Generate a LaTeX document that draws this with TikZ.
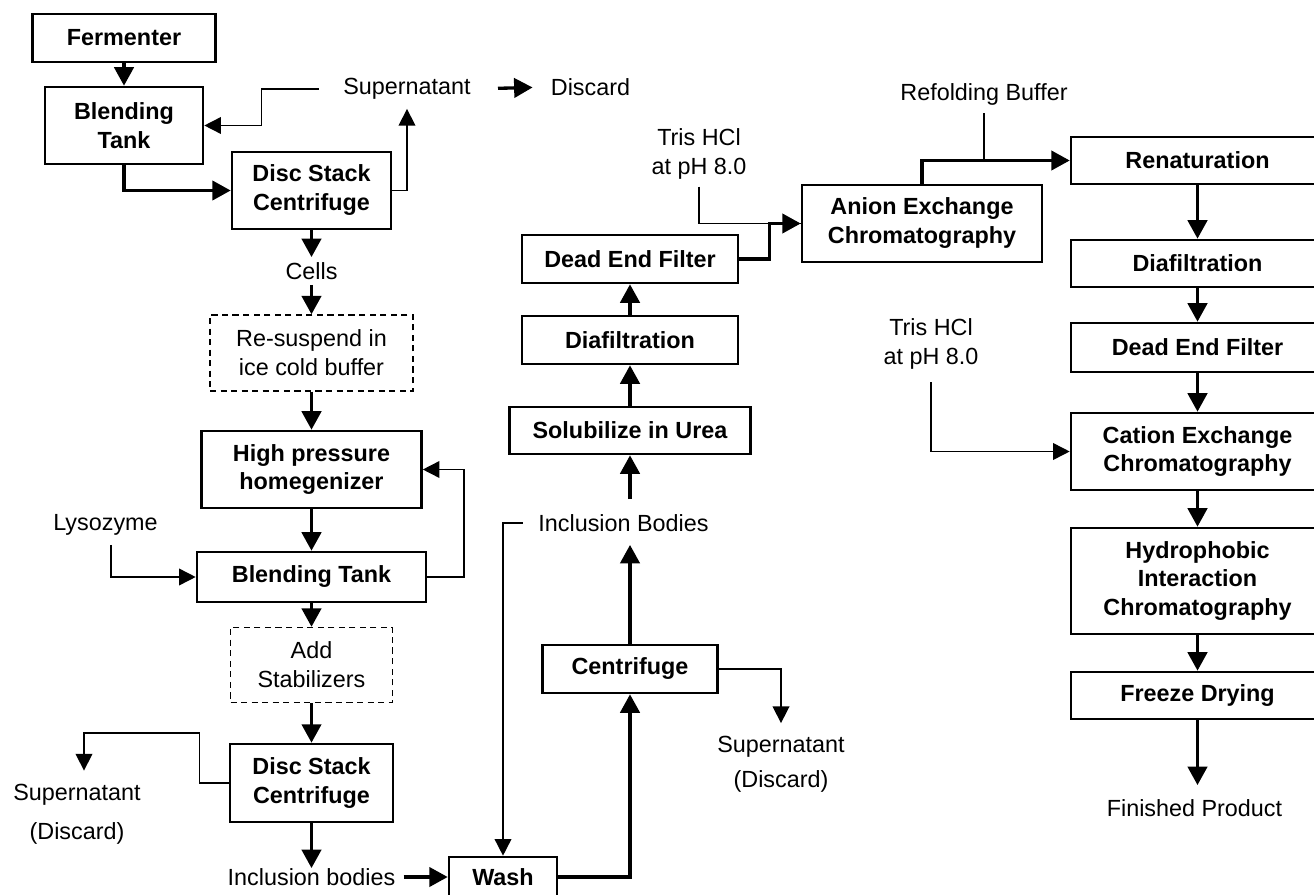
\documentclass[tikz,border=0pt]{standalone}
\usepackage{fontspec}
\setmainfont{Liberation Sans}
\usetikzlibrary{arrows.meta}
\tikzset{
  box/.style={draw,line width=1.5pt,inner sep=0pt,align=center,font=\fontsize{13.3}{16.5}\selectfont\bfseries},
  dbox/.style={box,line width=0.8pt,dash pattern=on 3.5pt off 2.5pt,font=\fontsize{13.3}{16.5}\selectfont},
  lbl/.style={inner sep=0pt,align=center,font=\fontsize{13.3}{16.5}\selectfont},
  flow/.style={line width=1.9pt,-{Triangle[length=10.5pt,width=11pt]}},
  feed/.style={line width=0.9pt,-{Triangle[length=9.5pt,width=9.5pt]}},
}

\begin{document}
\begin{tikzpicture}[x=0.02cm,y=-0.02cm]
\useasboundingbox (0,0) rectangle (1314,895);

% ================= LEFT: harvest and lysis =================
\node[box,minimum width=3.66cm,minimum height=0.96cm] (ferm) at (124,38) {Fermenter};
\node[box,minimum width=3.16cm,minimum height=1.54cm] (blend1) at (124,125.5) {Blending\\Tank};
\node[box,minimum width=3.18cm,minimum height=1.54cm] (dsc1) at (311.5,190.5) {Disc Stack\\Centrifuge};
\node[lbl] (supA) at (407,89) {Supernatant};
\node[lbl] (discA) at (590.5,87) {Discard};
\node[lbl] (cells) at (311.5,271) {Cells};
\node[dbox,minimum width=4.06cm,minimum height=1.52cm] (resus) at (311.5,353) {Re-suspend in\\ice cold buffer};
\node[box,minimum width=4.4cm,minimum height=1.54cm] (hph) at (311.5,469.5) {High pressure\\homegenizer};
\node[lbl] (lyso) at (105.5,525) {Lysozyme};
\node[box,minimum width=4.58cm,minimum height=1cm] (blend2) at (311.5,577) {Blending Tank};
\node[dbox,minimum width=3.24cm,minimum height=1.5cm] (stab) at (311.5,665) {Add\\Stabilizers};
\node[box,minimum width=3.26cm,minimum height=1.56cm] (dsc2) at (311.5,783) {Disc Stack\\Centrifuge};
\node[lbl] (supB) at (77,814) {Supernatant\\[5.7pt](Discard)};
\node[lbl] (ibodA) at (311.5,877) {Inclusion bodies};

\draw[flow] (ferm.south) -- (blend1.north);
\draw[flow] (blend1.south) |- (dsc1.west);
\draw[feed,shorten <=0.48cm] (supA.west) -| ([xshift=1.14cm]blend1.east) -- (blend1.east);
\draw[feed,shorten >=0.18cm] (dsc1.east) -| (supA.south);
\draw[flow,shorten <=0.54cm,shorten >=0.36cm] (supA.east) -- (discA.west);
\draw[flow,shorten >=0.1cm] (dsc1.south) -- (cells.north);
\draw[flow,shorten <=0.1cm] (cells.south) -- (resus.north);
\draw[flow] (resus) -- (hph);
\draw[flow] (hph) -- (blend2);
\draw[feed,shorten <=0.18cm] ([xshift=0.11cm]lyso.south) |- (blend2.west);
\draw[feed] (blend2.east) -| ([xshift=0.82cm]hph.east) -- (hph.east);
\draw[flow] (blend2) -- (stab);
\draw[flow] (stab) -- (dsc2);
\draw[feed,shorten >=0.26cm] (dsc2.west) -| ([xshift=-0.58cm,yshift=1.0cm]dsc2.west) -| ([xshift=0.14cm]supB.north);
\draw[flow] (dsc2.south) -- (ibodA.north);

% ================= MIDDLE: wash and solubilize =================
\node[box,minimum width=2.16cm,minimum height=0.8cm] (wash) at (503,877) {Wash};
\node[box,minimum width=3.5cm,minimum height=0.96cm] (cent) at (630,669) {Centrifuge};
\node[lbl] (supC) at (781,764.5) {Supernatant\\[3.4pt](Discard)};
\node[lbl] (ibodB) at (623.5,523) {Inclusion Bodies};
\node[box,minimum width=4.82cm,minimum height=0.94cm] (solub) at (630,430.5) {Solubilize in Urea};
\node[box,minimum width=4.32cm,minimum height=0.96cm] (diaf1) at (630,340) {Diafiltration};
\node[box,minimum width=4.32cm,minimum height=0.96cm] (def1) at (630,259) {Dead End Filter};
\node[lbl] (tris1) at (699,153.5) {Tris HCl\\at pH 8.0};
\node[box,minimum width=4.8cm,minimum height=1.54cm] (anion) at (922,223.5) {Anion Exchange\\Chromatography};

\draw[flow,shorten <=0.16cm] (ibodA.east) -- (wash.west);
\draw[flow] (wash.east) -| (cent.south);
\draw[feed,shorten >=0.26cm] (cent.east) -| (supC.north);
\draw[flow,shorten >=0.26cm] (cent.north) -- (cent.north |- ibodB.south);
\draw[feed,shorten <=0.31cm] (ibodB.west) -| (wash.north);
\draw[flow,shorten <=0.3cm] (solub.south |- ibodB.north) -- (solub.south);
\draw[flow] (solub) -- (diaf1);
\draw[flow] (diaf1) -- (def1);
\draw[line width=0.9pt,shorten <=0.15cm] (tris1.south) |- (anion.west);
\draw[flow] (def1.east) -| ([xshift=-0.62cm]anion.west) -- (anion.west);

% ================= RIGHT: refolding and polishing =================
\node[lbl] (refold) at (984,94) {Refolding Buffer};
\node[box,minimum width=5.06cm,minimum height=0.94cm] (renat) at (1197.5,160.5) {Renaturation};
\node[box,minimum width=5.06cm,minimum height=0.94cm] (diaf2) at (1197.5,263.5) {Diafiltration};
\node[box,minimum width=5.06cm,minimum height=0.98cm] (def2) at (1197.5,347.5) {Dead End Filter};
\node[lbl] (tris2) at (931,344) {Tris HCl\\at pH 8.0};
\node[box,minimum width=5.06cm,minimum height=1.54cm] (cation) at (1197.5,451.5) {Cation Exchange\\Chromatography};
\node[box,minimum width=5.06cm,minimum height=2.12cm] (hic) at (1197.5,581) {Hydrophobic\\Interaction\\Chromatography};
\node[box,minimum width=5.06cm,minimum height=0.94cm] (freeze) at (1197.5,695.5) {Freeze Drying};
\node[lbl] (finished) at (1194.5,808) {Finished Product};

\draw[flow] (anion.north) |- (renat.west);
\draw[line width=0.9pt,shorten <=0.16cm] (refold.south) -- (refold.south |- renat.west);
\foreach \a/\b in {renat/diaf2,diaf2/def2,def2/cation,cation/hic,hic/freeze}
  \draw[flow] (\a) -- (\b);
\draw[feed,shorten <=0.25cm] (tris2.south) |- (cation.west);
\draw[flow,shorten >=0.28cm] (freeze.south) -- (freeze.south |- finished.north);

\end{tikzpicture}
\end{document}
